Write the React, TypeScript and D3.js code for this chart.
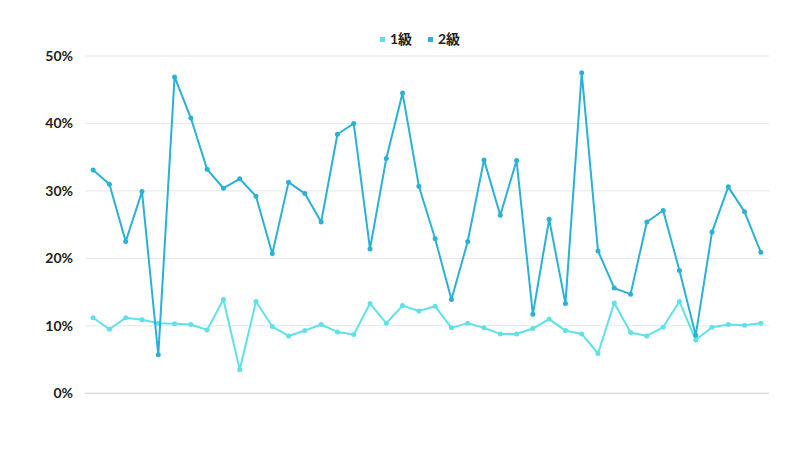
import React from "react";
import * as d3 from "d3";

const seriesNames = ["1級", "2級"];
const colors = ["#5fe1e8", "#2bb1d6"];
const grade1 = [11.2, 9.5, 11.2, 10.9, 10.4, 10.3, 10.2, 9.4, 13.9, 3.5, 13.6, 9.9, 8.5, 9.3, 10.2, 9.1, 8.7, 13.3, 10.4, 13.0, 12.2, 12.9, 9.7, 10.4, 9.7, 8.8, 8.8, 9.6, 11.0, 9.3, 8.8, 5.9, 13.4, 9.0, 8.5, 9.8, 13.6, 7.9, 9.8, 10.2, 10.1, 10.4];
const grade2 = [33.1, 31.0, 22.5, 29.9, 5.7, 46.9, 40.8, 33.2, 30.4, 31.8, 29.2, 20.7, 31.3, 29.6, 25.4, 38.4, 40.0, 21.4, 34.8, 44.5, 30.7, 22.9, 13.9, 22.5, 34.6, 26.4, 34.5, 11.7, 25.8, 13.3, 47.5, 21.1, 15.6, 14.7, 25.4, 27.1, 18.2, 8.6, 23.9, 30.6, 26.9, 20.9];
const yTicks = [0, 10, 20, 30, 40, 50];

export default function App() {
  const W = 800, H = 450;
  const left = 85, right = 769, top = 56, bottom = 393.3;
  const idx = grade1.map((_, i) => i);
  const x = d3.scaleBand<number>().domain(idx).range([left, right]);
  const y = d3.scaleLinear().domain([0, 50]).range([bottom, top]);
  const cx = (i: number) => (x(i) as number) + x.bandwidth() / 2;
  const line = d3.line<number>().x((_, i) => cx(i)).y((d) => y(d));
  const series = [grade1, grade2];
  const font = "Lato, 'Noto Sans CJK JP', sans-serif";
  return (
    <svg width={W} height={H} style={{ position: "absolute", left: 0, top: 0 }} fontFamily={font}>
      <rect width={W} height={H} fill="#fff" />
      {yTicks.map((t) => (
        <g key={t}>
          <line x1={left} x2={right} y1={y(t)} y2={y(t)} stroke={t === 0 ? "#cfcfcf" : "#e6e6e6"} strokeWidth={1} />
          <text x={73} y={y(t)} dy="0.35em" textAnchor="end" fontSize={14} fontWeight={700} fill="#222">{t}%</text>
        </g>
      ))}
      {series.map((s, k) => (
        <g key={k}>
          <path d={line(s) || ""} fill="none" stroke={colors[k]} strokeWidth={2} strokeLinejoin="round" />
          {s.map((v, i) => (
            <circle key={i} cx={cx(i)} cy={y(v)} r={2.5} fill={colors[k]} />
          ))}
        </g>
      ))}
      {seriesNames.map((n, k) => (
        <g key={n} transform={`translate(${380 + k * 48},39.5)`}>
          <rect x={0} y={-2.5} width={5} height={5} fill={colors[k]} />
          <text x={10} y={0} dy="0.35em" fontSize={14} fontWeight={700} fill="#222">{n}</text>
        </g>
      ))}
    </svg>
  );
}
